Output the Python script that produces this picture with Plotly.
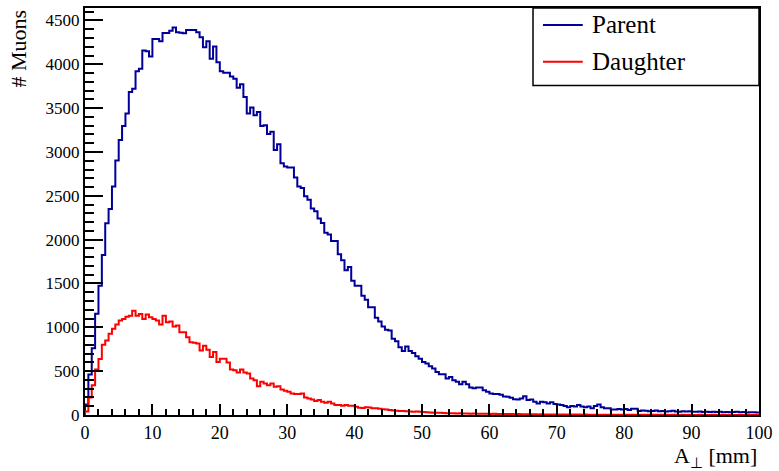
import numpy as np
import plotly.graph_objects as go

# Histogram: A_perp in [0, 100] mm, 200 bins of 0.5 mm
x_min, x_max, n_bins = 0.0, 100.0, 200

parent_counts = [
    120, 461, 760, 1156, 1473, 1825, 2188, 2350, 2607, 2902,
    3136, 3295, 3438, 3684, 3722, 3922, 3950, 4157, 4150, 4090,
    4288, 4288, 4262, 4356, 4356, 4383, 4420, 4364, 4360, 4353,
    4390, 4390, 4390, 4364, 4307, 4194, 4262, 4062, 4202, 4024,
    3922, 3903, 3903, 3862, 3835, 3733, 3771, 3627, 3438, 3506,
    3420, 3457, 3295, 3306, 3204, 3230, 3023, 3087, 2871, 2834,
    2822, 2822, 2709, 2607, 2588, 2494, 2456, 2354, 2324, 2241,
    2191, 2078, 2059, 1984, 1984, 1833, 1765, 1652, 1689, 1530,
    1474, 1474, 1360, 1315, 1228, 1228, 1110, 1065, 1010, 971,
    965, 869, 842, 774, 729, 782, 729, 706, 669, 642,
    604, 586, 555, 529, 491, 465, 465, 416, 434, 397,
    378, 351, 378, 351, 314, 306, 314, 314, 283, 264,
    246, 240, 240, 232, 210, 208, 196, 181, 178, 189,
    215, 170, 178, 151, 132, 151, 145, 132, 145, 125,
    121, 113, 102, 87, 102, 96, 113, 96, 87, 96,
    76, 102, 121, 87, 76, 76, 64, 64, 68, 64,
    68, 57, 72, 70, 45, 50, 48, 42, 46, 52,
    44, 46, 40, 42, 48, 40, 38, 44, 40, 42,
    38, 36, 40, 35, 38, 34, 36, 33, 38, 32,
    35, 30, 34, 36, 30, 33, 28, 32, 30, 29,
]

daughter_counts = [
    40, 200, 340, 520, 640, 800, 850, 926, 983, 1031,
    1077, 1096, 1122, 1133, 1190, 1133, 1152, 1096, 1145, 1115,
    1096, 1077, 1031, 1133, 1058, 1066, 1009, 1020, 945, 945,
    888, 831, 825, 816, 737, 790, 745, 661, 718, 604,
    642, 642, 600, 520, 510, 484, 518, 484, 472, 416,
    397, 329, 378, 359, 340, 359, 321, 329, 291, 276,
    264, 246, 240, 240, 246, 200, 189, 178, 159, 170,
    151, 140, 151, 132, 113, 113, 106, 113, 106, 106,
    94, 83, 80, 87, 85, 76, 78, 72, 66, 64,
    58, 50, 49, 47, 45, 42, 40, 38, 39, 36,
    34, 30, 28, 27, 25, 26, 22, 21, 20, 19,
    18, 19, 16, 17, 15, 16, 14, 15, 13, 14,
    12, 13, 11, 12, 10, 11, 10, 9, 10, 9,
    9, 8, 9, 8, 7, 8, 7, 7, 6, 7,
    6, 6, 5, 6, 5, 5, 5, 4, 5, 4,
    4, 4, 4, 3, 4, 3, 3, 4, 3, 3,
    3, 3, 2, 3, 2, 3, 2, 2, 3, 2,
    2, 2, 2, 1, 2, 2, 1, 2, 1, 2,
    1, 1, 2, 1, 1, 1, 2, 1, 1, 1,
    1, 1, 1, 1, 0, 1, 1, 1, 0, 1,
]

series_names = ["Parent", "Daughter"]
series_colors = ["#000099", "#ff0000"]
x_title = "A<sub>⊥</sub> [mm]"
y_title = "# Muons"
y_max = 4642

edges = np.linspace(x_min, x_max, n_bins + 1)

fig = go.Figure()
for name, counts, color in zip(series_names, [parent_counts, daughter_counts], series_colors):
    xs = np.concatenate([[edges[0]], edges])
    ys = np.concatenate([[0], counts, [counts[-1]]])
    fig.add_trace(go.Scatter(
        x=xs, y=ys, mode="lines", line=dict(color=color, width=2, shape="hv"),
        name=name, showlegend=False, hoverinfo="skip",
    ))

font_family = "Liberation Serif"

fig.update_layout(
    width=779, height=471,
    margin=dict(l=85, r=16, t=6, b=56),
    paper_bgcolor="white", plot_bgcolor="white",
    font=dict(family=font_family, color="black"),
    xaxis=dict(
        range=[x_min, x_max], showgrid=False, zeroline=False,
        showline=True, linecolor="black", linewidth=2, mirror=True,
        ticks="inside", ticklen=11, tickwidth=1.5, tickcolor="black",
        tick0=0, dtick=10, tickfont=dict(size=18, family=font_family),
        minor=dict(ticks="inside", ticklen=6, tickwidth=1.5, tickcolor="black", dtick=2, showgrid=False),
    ),
    yaxis=dict(
        range=[0, y_max], showgrid=False, zeroline=False,
        showline=True, linecolor="black", linewidth=2, mirror=True,
        ticks="inside", ticklen=18, tickwidth=1.5, tickcolor="black",
        tick0=0, dtick=500, tickfont=dict(size=17, family=font_family),
        minor=dict(ticks="inside", ticklen=9, tickwidth=1.5, tickcolor="black", dtick=100, showgrid=False),
    ),
)

# Axis titles (ROOT style: right/top aligned)
fig.add_annotation(text=x_title, xref="paper", yref="paper", x=1.0, y=-0.065,
                   xanchor="right", yanchor="top", showarrow=False,
                   font=dict(size=22, family=font_family))
fig.add_annotation(text=y_title, xref="paper", yref="paper", x=-0.1, y=1.0,
                   xanchor="center", yanchor="top", textangle=-90, showarrow=False,
                   font=dict(size=22, family=font_family))

# Legend box (ROOT TLegend style)
lx0, lx1 = (535 - 85) / 677, 1.0
ly0, ly1 = (415 - 84) / 409, 1.0
fig.add_shape(type="rect", xref="paper", yref="paper", x0=lx0, x1=lx1, y0=ly0, y1=ly1,
              line=dict(color="black", width=1.5), fillcolor="white", layer="above")
entry_y = [(415 - 23) / 409, (415 - 60) / 409]
for name, color, yy in zip(series_names, series_colors, entry_y):
    fig.add_shape(type="line", xref="paper", yref="paper",
                  x0=(545 - 85) / 677, x1=(585 - 85) / 677, y0=yy, y1=yy,
                  line=dict(color=color, width=2), layer="above")
    fig.add_annotation(text=name, xref="paper", yref="paper", x=(592 - 85) / 677, y=yy,
                       xanchor="left", yanchor="middle", showarrow=False,
                       font=dict(size=25, family=font_family))

fig.write_html("out.html", config={"displayModeBar": False},
               post_script="document.body.style.margin='0';document.body.style.overflow='hidden';")
